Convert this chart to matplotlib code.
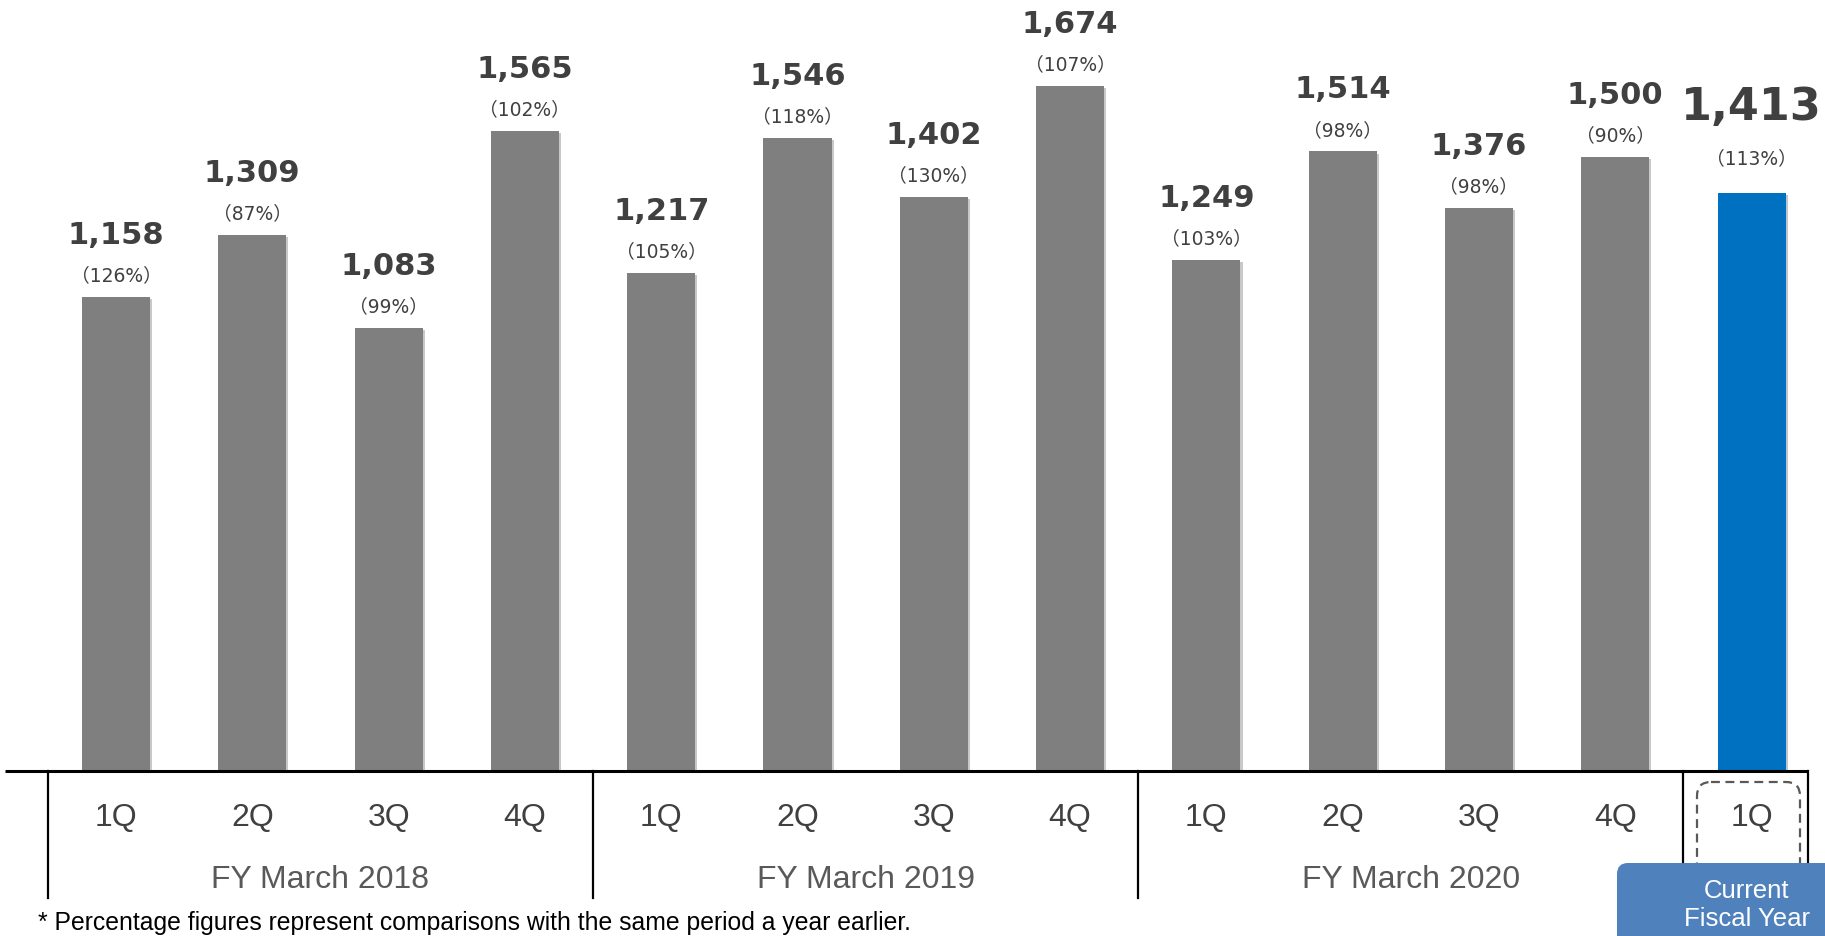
import matplotlib
matplotlib.use("Agg")
import matplotlib.pyplot as plt
from matplotlib.patches import FancyBboxPatch
import matplotlib.patheffects as pe

# data
values = [1158, 1309, 1083, 1565, 1217, 1546, 1402, 1674, 1249, 1514, 1376, 1500, 1413]
yoy_pct = [126, 87, 99, 102, 105, 118, 130, 107, 103, 98, 98, 90, 113]
quarters = ["1Q", "2Q", "3Q", "4Q"] * 3 + ["1Q"]
fiscal_years = ["FY March 2018", "FY March 2019", "FY March 2020"]
footnote = "* Percentage figures represent comparisons with the same period a year earlier."

W, H = 1825, 937
fig = plt.figure(figsize=(W / 100, H / 100), dpi=100)

# pixel layout
x0, step = 116, 136.3      # first bar centre, spacing
base = 772                 # baseline (px from top)
top_px = 87                # top of tallest bar
unit = max(values) / (base - top_px)

ax = fig.add_axes([0, 0, 1, 1])
ax.set_xlim(-x0 / step, (W - x0) / step)
ax.set_ylim(-(H - base) * unit, base * unit)
ax.axis("off")

n = len(values)
xs = list(range(n))
colors = ["#7f7f7f"] * (n - 1) + ["#0070c0"]
bars = ax.bar(xs, values, width=0.5, color=colors, zorder=2)
for b in bars:
    b.set_path_effects([pe.SimplePatchShadow(offset=(1.5, -1.5), alpha=0.25), pe.Normal()])

# value and percentage labels
for i, (v, p) in enumerate(zip(values, yoy_pct)):
    last = i == n - 1
    ax.annotate(f"{v:,}", (i, v), xytext=(0, 62 if last else 45), textcoords="offset points",
                ha="center", va="center", fontsize=32 if last else 22, fontweight="bold",
                color="#404040", family="DejaVu Sans")
    ax.annotate(f"（{p}%）", (i, v), xytext=(0, 25 if last else 16), textcoords="offset points",
                ha="center", va="center", fontsize=13.5, color="#404040",
                family=["DejaVu Sans", "Noto Sans CJK JP"])

# overlay in pixel coordinates for the table under the bars
ov = fig.add_axes([0, 0, 1, 1], facecolor="none")
ov.set_xlim(0, W)
ov.set_ylim(H, 0)
ov.axis("off")

def px(i):
    return x0 + step * i

right = 1808
ov.plot([5, right], [base, base], color="black", lw=2.2, solid_capstyle="butt")
for s in [-0.5, 3.5, 7.5]:
    ov.plot([px(s), px(s)], [base, 899], color="black", lw=1.6)
ov.plot([px(11.5), px(11.5)], [base, 899], color="black", lw=1.6)
ov.plot([right, right], [base, 880], color="black", lw=1.6)

for i, q in enumerate(quarters):
    ov.text(px(i), 818, q, ha="center", va="center", fontsize=23,
            color="#404040", family="Liberation Sans")
for k, fy in enumerate(fiscal_years):
    ov.text(px(4 * k + 1.5), 880, fy, ha="center", va="center", fontsize=23,
            color="#595959", family="Liberation Sans")

# dashed box around the current quarter
ov.add_patch(FancyBboxPatch((1697, 783), 103, 130, boxstyle="round,pad=0,rounding_size=14",
                            fill=False, ec="#595959", lw=1.6, ls=(0, (4, 2.5)), zorder=3))
# "Current Fiscal Year" tag
ov.add_patch(FancyBboxPatch((1617, 864), 260, 120, boxstyle="round,pad=0,rounding_size=11",
                            fc="#4f81bd", ec="none", zorder=4))
ov.text(1747, 905, "Current\nFiscal Year", ha="center", va="center", fontsize=18.5,
        color="white", family="Liberation Sans", linespacing=1.25, zorder=5)

ov.text(38, 923, footnote, ha="left", va="center", fontsize=17.8, color="black",
        family="Liberation Sans")

fig.savefig("out.png", dpi=100)
